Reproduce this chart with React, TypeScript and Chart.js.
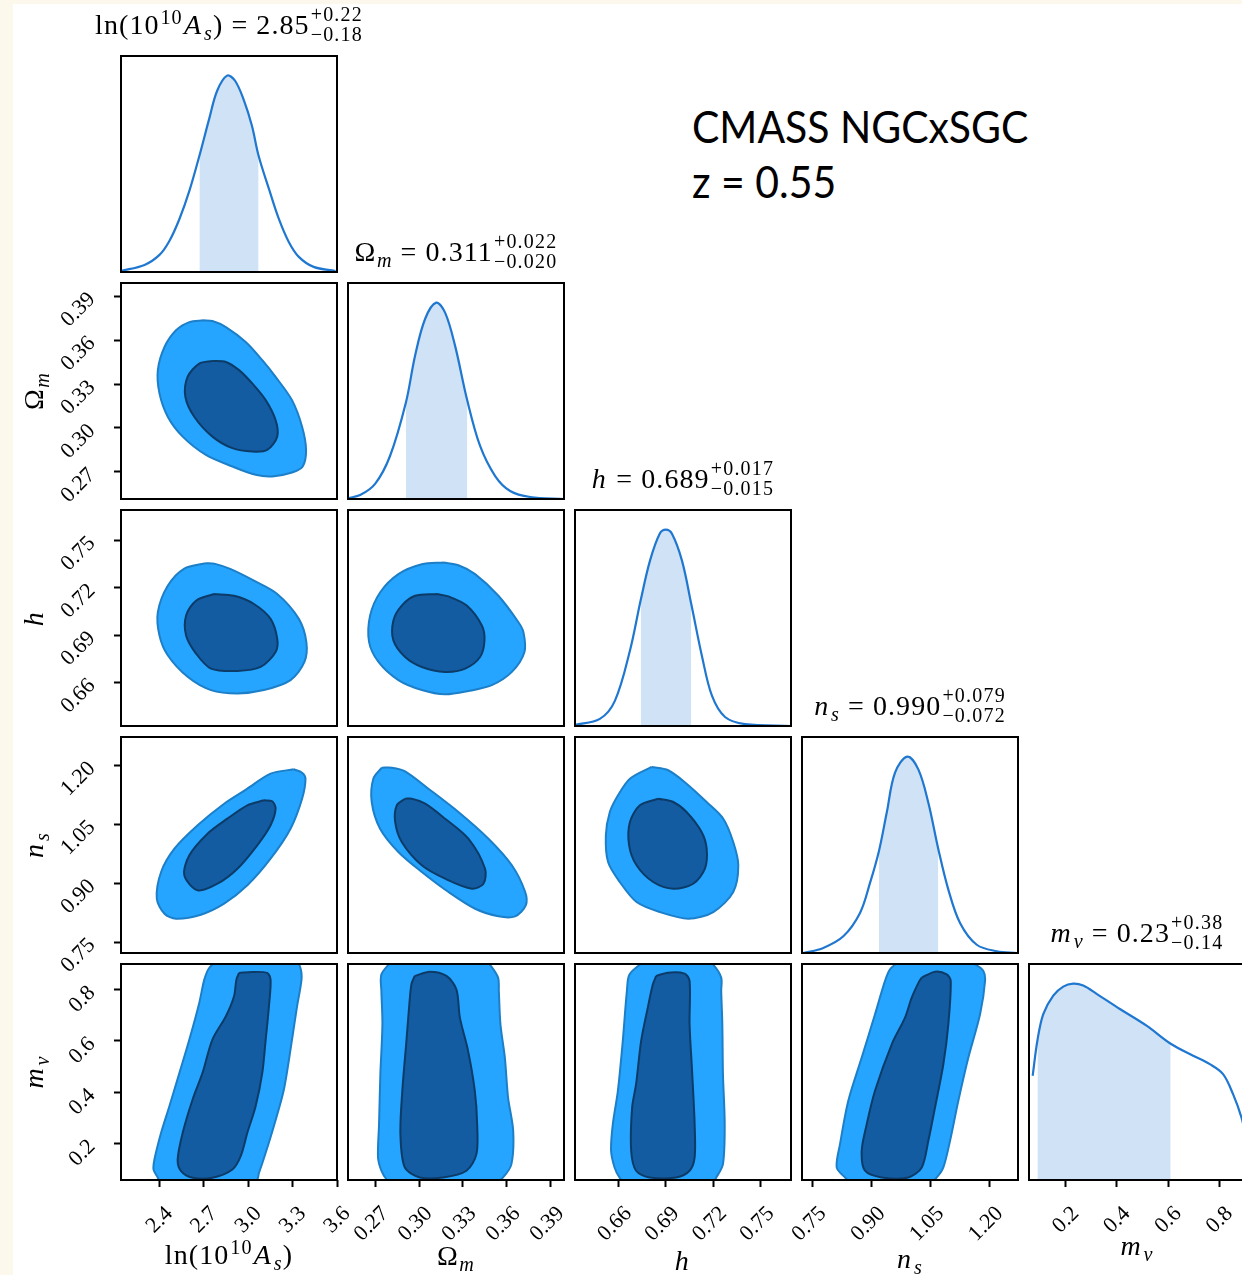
import React, { useEffect, useRef } from "react";
import { Chart, registerables } from "chart.js";

Chart.register(...registerables);

type Pt = [number, number];

// ---------------- layout constants ----------------
const PANEL = 216;
const STRIDE = 227;
const GRID_LEFT = 121;
const GRID_TOP = 56;
const NPAR = 5;
const SERIF = "'Liberation Serif', 'DejaVu Serif', serif";

// ---------------- parameter summaries ----------------
const MEDIAN = [2.85, 0.311, 0.689, 0.99, 0.23];
const ERR_PLUS = [0.22, 0.022, 0.017, 0.079, 0.38];
const ERR_MINUS = [0.18, 0.02, 0.015, 0.072, 0.14];
const VALUE_DECIMALS = [2, 3, 3, 3, 2];

// axis ranges and ticks
const AXIS_MIN = [2.14, 0.2515, 0.6325, 0.722, 0.057];
const AXIS_MAX = [3.6, 0.399, 0.769, 1.272, 0.9];
const TICKS_LNAS = [2.4, 2.7, 3.0, 3.3, 3.6];
const TICKS_OM = [0.27, 0.3, 0.33, 0.36, 0.39];
const TICKS_H = [0.66, 0.69, 0.72, 0.75];
const TICKS_NS = [0.75, 0.9, 1.05, 1.2];
const TICKS_MNU = [0.2, 0.4, 0.6, 0.8];
const TICK_DECIMALS = [1, 2, 2, 2, 1];
const DIAG_YMAX = 1.1;

// ---------------- 1D marginal posteriors ----------------
const LNAS_GRID = [2.138, 2.299, 2.4, 2.467, 2.535, 2.602, 2.67, 2.736, 2.79, 2.857, 2.911, 2.972, 3.025, 3.07, 3.14, 3.207, 3.274, 3.342, 3.442, 3.59];
const LNAS_PDF = [0.005, 0.036, 0.087, 0.158, 0.27, 0.413, 0.592, 0.78, 0.923, 1.0, 0.974, 0.872, 0.745, 0.592, 0.423, 0.27, 0.153, 0.077, 0.026, 0.005];

const OM_GRID = [0.2516, 0.2598, 0.27, 0.2802, 0.291, 0.2973, 0.3042, 0.3117, 0.3178, 0.3246, 0.333, 0.3417, 0.352, 0.3622, 0.3759, 0.3991];
const OM_PDF = [0.005, 0.02, 0.077, 0.219, 0.49, 0.73, 0.918, 1.0, 0.949, 0.781, 0.5, 0.27, 0.117, 0.041, 0.01, 0.0];

const H_GRID = [0.6323, 0.6482, 0.6577, 0.6672, 0.674, 0.6799, 0.6861, 0.6899, 0.6937, 0.7001, 0.706, 0.7127, 0.7191, 0.7273, 0.74, 0.7691];
const H_PDF = [0.005, 0.036, 0.128, 0.383, 0.64, 0.842, 0.98, 1.0, 0.98, 0.842, 0.62, 0.357, 0.153, 0.046, 0.01, 0.0];

const NS_GRID = [0.7253, 0.7762, 0.8272, 0.8697, 0.8952, 0.918, 0.9377, 0.9589, 0.9902, 1.0182, 1.0437, 1.069, 1.0946, 1.1244, 1.167, 1.2179, 1.2689];
const NS_PDF = [0.0, 0.026, 0.085, 0.204, 0.357, 0.52, 0.714, 0.918, 1.0, 0.935, 0.765, 0.53, 0.323, 0.153, 0.042, 0.009, 0.0];

const MNU_GRID = [0.0713, 0.09, 0.1127, 0.1517, 0.1906, 0.2296, 0.2686, 0.3209, 0.4117, 0.5158, 0.61, 0.6975, 0.7626, 0.8144, 0.8534, 0.8862, 0.9068];
const MNU_PDF = [0.531, 0.712, 0.845, 0.939, 0.985, 1.0, 0.99, 0.948, 0.871, 0.786, 0.694, 0.633, 0.59, 0.539, 0.437, 0.318, 0.199];

// ---------------- 2D credible contours (x = column param, y = row param) ----------------
const OM_LNAS_95: Pt[] = [[2.696, 0.3735], [2.602, 0.3723], [2.512, 0.3667], [2.434, 0.3553], [2.389, 0.3395], [2.4, 0.3236], [2.456, 0.3077], [2.557, 0.2941], [2.714, 0.2816], [2.893, 0.2737], [3.05, 0.268], [3.162, 0.2669], [3.296, 0.2696], [3.368, 0.2737], [3.391, 0.285], [3.364, 0.3009], [3.296, 0.319], [3.185, 0.3349], [3.095, 0.3463], [2.983, 0.3587], [2.849, 0.3689], [2.758, 0.373]];
const OM_LNAS_68: Pt[] = [[2.758, 0.3458], [2.669, 0.344], [2.59, 0.3349], [2.575, 0.3213], [2.635, 0.3077], [2.758, 0.2941], [2.893, 0.2862], [3.027, 0.2839], [3.128, 0.285], [3.196, 0.2941], [3.185, 0.3054], [3.118, 0.319], [3.027, 0.3304], [2.938, 0.3395], [2.849, 0.3451]];

const H_LNAS_95: Pt[] = [[2.714, 0.7354], [2.568, 0.732], [2.456, 0.7211], [2.389, 0.7044], [2.4, 0.6897], [2.456, 0.6772], [2.59, 0.6636], [2.748, 0.6552], [2.927, 0.6531], [3.106, 0.6552], [3.286, 0.6615], [3.38, 0.673], [3.393, 0.6855], [3.342, 0.7002], [3.196, 0.7159], [3.039, 0.7243], [2.882, 0.7316], [2.77, 0.7351]];
const H_LNAS_68: Pt[] = [[2.77, 0.7159], [2.647, 0.7117], [2.58, 0.7023], [2.58, 0.6897], [2.647, 0.6783], [2.748, 0.6688], [2.927, 0.6673], [3.084, 0.6698], [3.185, 0.6793], [3.196, 0.6877], [3.151, 0.7002], [3.039, 0.7096], [2.904, 0.7148]];

const H_OM_95: Pt[] = [[0.3167, 0.7358], [0.3019, 0.7347], [0.2859, 0.7285], [0.2734, 0.7169], [0.2666, 0.7023], [0.2659, 0.6855], [0.2723, 0.673], [0.2859, 0.6615], [0.3019, 0.6552], [0.3178, 0.6525], [0.3337, 0.6546], [0.3497, 0.6583], [0.3634, 0.6667], [0.372, 0.6793], [0.3713, 0.6918], [0.3679, 0.6981], [0.3542, 0.7148], [0.3383, 0.7285], [0.3269, 0.7341]];
const H_OM_68: Pt[] = [[0.3121, 0.7159], [0.2973, 0.7148], [0.2882, 0.7086], [0.2825, 0.6992], [0.2825, 0.6866], [0.2905, 0.6761], [0.3019, 0.6698], [0.3178, 0.6667], [0.3315, 0.6688], [0.3417, 0.6761], [0.3447, 0.6866], [0.3429, 0.696], [0.3326, 0.7086], [0.3201, 0.7144]];

const NS_LNAS_95: Pt[] = [[3.308, 1.1898], [3.151, 1.1786], [2.994, 1.1404], [2.837, 1.1022], [2.658, 1.0472], [2.501, 0.9876], [2.411, 0.9282], [2.382, 0.8602], [2.434, 0.822], [2.512, 0.8093], [2.68, 0.8195], [2.837, 0.8475], [2.994, 0.8943], [3.151, 0.9621], [3.286, 1.0385], [3.364, 1.1149], [3.387, 1.1659], [3.364, 1.1812]];
const NS_LNAS_68: Pt[] = [[3.106, 1.1109], [2.994, 1.0981], [2.859, 1.064], [2.725, 1.0258], [2.602, 0.9708], [2.568, 0.9198], [2.658, 0.8816], [2.792, 0.8984], [2.927, 0.9366], [3.061, 0.9962], [3.151, 1.0472], [3.185, 1.0895], [3.162, 1.1083]];

const NS_OM_95: Pt[] = [[0.2746, 1.1939], [0.2688, 1.1659], [0.2677, 1.1065], [0.2734, 1.0385], [0.2859, 0.9792], [0.3019, 0.9282], [0.3201, 0.8773], [0.3383, 0.8347], [0.3542, 0.8154], [0.3656, 0.8154], [0.3729, 0.8434], [0.3725, 0.8773], [0.3634, 0.9453], [0.3474, 1.013], [0.3269, 1.081], [0.3064, 1.1404], [0.2905, 1.1847], [0.2814, 1.1939]];
const NS_OM_68: Pt[] = [[0.2905, 1.1149], [0.2848, 1.0981], [0.2837, 1.0556], [0.2882, 1.0046], [0.3019, 0.9453], [0.3178, 0.9112], [0.3361, 0.8857], [0.344, 0.8984], [0.3451, 0.9366], [0.3337, 1.013], [0.3178, 1.064], [0.3042, 1.1022], [0.2951, 1.1149]];

const NS_H_95: Pt[] = [[0.6809, 1.1957], [0.6672, 1.1659], [0.6597, 1.1236], [0.6545, 1.081], [0.652, 1.0217], [0.6534, 0.9537], [0.6608, 0.9028], [0.6714, 0.8518], [0.6861, 0.8263], [0.7041, 0.8093], [0.7199, 0.8263], [0.7325, 0.8773], [0.7357, 0.9453], [0.7325, 1.0046], [0.7262, 1.064], [0.7157, 1.1065], [0.703, 1.1531], [0.6914, 1.1873]];
const NS_H_68: Pt[] = [[0.6851, 1.1149], [0.6735, 1.0981], [0.6672, 1.0556], [0.6667, 0.9962], [0.6714, 0.9453], [0.6819, 0.9028], [0.6946, 0.8857], [0.7072, 0.8984], [0.7146, 0.9366], [0.7157, 0.9876], [0.7125, 1.0301], [0.703, 1.081], [0.6946, 1.1065]];

const MNU_LNAS_95: Pt[] = [[2.792, 0.913], [2.736, 0.8846], [2.703, 0.839], [2.669, 0.7481], [2.602, 0.6051], [2.535, 0.4752], [2.467, 0.345], [2.411, 0.2413], [2.366, 0.1372], [2.36, 0.0982], [2.389, 0.0659], [2.4, 0.0515], [3.05, 0.0515], [3.073, 0.0854], [3.118, 0.1634], [3.173, 0.267], [3.241, 0.4101], [3.296, 0.6051], [3.33, 0.7349], [3.36, 0.839], [3.353, 0.8846], [3.319, 0.913]];
const MNU_LNAS_68: Pt[] = [[2.938, 0.8651], [3.027, 0.869], [3.128, 0.8651], [3.151, 0.839], [3.14, 0.7349], [3.118, 0.6051], [3.095, 0.4752], [3.05, 0.345], [2.994, 0.2413], [2.949, 0.1501], [2.893, 0.0982], [2.758, 0.0659], [2.624, 0.0659], [2.546, 0.0916], [2.523, 0.1372], [2.557, 0.2413], [2.624, 0.3713], [2.691, 0.4752], [2.758, 0.6051], [2.849, 0.6959], [2.904, 0.7739], [2.92, 0.839]];

const MNU_OM_95: Pt[] = [[0.2816, 0.913], [0.2743, 0.8596], [0.2743, 0.7949], [0.275, 0.6647], [0.2736, 0.4698], [0.2727, 0.2748], [0.272, 0.145], [0.2743, 0.0932], [0.2777, 0.0604], [0.2816, 0.0476], [0.352, 0.0476], [0.3574, 0.0671], [0.3631, 0.1189], [0.3643, 0.2491], [0.3608, 0.3789], [0.3586, 0.5349], [0.3556, 0.6647], [0.3545, 0.7949], [0.354, 0.8468], [0.3483, 0.8986], [0.3451, 0.913]];
const MNU_OM_68: Pt[] = [[0.2971, 0.8534], [0.3074, 0.8702], [0.3187, 0.8534], [0.3255, 0.8012], [0.3279, 0.6908], [0.3335, 0.561], [0.3381, 0.4051], [0.3397, 0.2748], [0.3392, 0.1579], [0.3324, 0.0932], [0.3164, 0.0671], [0.3005, 0.0671], [0.2903, 0.106], [0.2873, 0.2359], [0.2886, 0.4051], [0.2914, 0.6], [0.2932, 0.7298], [0.2948, 0.8207]];

const MNU_H_95: Pt[] = [[0.6766, 0.913], [0.667, 0.8596], [0.6653, 0.7949], [0.6627, 0.6], [0.6596, 0.4051], [0.6564, 0.2748], [0.6553, 0.1711], [0.6575, 0.106], [0.6606, 0.0671], [0.664, 0.0476], [0.7191, 0.0476], [0.7218, 0.0671], [0.726, 0.1189], [0.7271, 0.2748], [0.726, 0.4698], [0.7256, 0.6647], [0.7249, 0.7949], [0.7249, 0.8468], [0.7197, 0.8986], [0.7153, 0.913]];
const MNU_H_68: Pt[] = [[0.6838, 0.8534], [0.6912, 0.8663], [0.7018, 0.8624], [0.7049, 0.8339], [0.7049, 0.6647], [0.7066, 0.4698], [0.7081, 0.2748], [0.7081, 0.145], [0.7049, 0.0932], [0.6965, 0.0671], [0.6796, 0.0671], [0.6711, 0.0932], [0.668, 0.1711], [0.6686, 0.34], [0.6711, 0.4308], [0.6743, 0.6], [0.6785, 0.7298], [0.6817, 0.8207]];

const MNU_NS_95: Pt[] = [[0.9716, 0.913], [0.9461, 0.8791], [0.9334, 0.8339], [0.9079, 0.7037], [0.874, 0.5349], [0.8399, 0.3661], [0.8188, 0.1969], [0.8104, 0.106], [0.8315, 0.0671], [0.8493, 0.0476], [1.048, 0.0476], [1.0651, 0.0671], [1.0819, 0.106], [1.099, 0.2101], [1.1201, 0.3661], [1.1456, 0.5349], [1.1754, 0.7037], [1.1881, 0.8339], [1.1838, 0.8729], [1.1626, 0.8986], [1.1372, 0.913]];
const MNU_NS_68: Pt[] = [[1.0269, 0.8468], [1.0607, 0.8702], [1.0906, 0.8596], [1.1007, 0.8339], [1.0946, 0.6647], [1.0819, 0.5088], [1.0607, 0.34], [1.0437, 0.2101], [1.0269, 0.106], [0.9927, 0.0671], [0.925, 0.0671], [0.8825, 0.0932], [0.874, 0.1711], [0.8868, 0.2748], [0.9079, 0.4051], [0.9505, 0.5867], [0.9843, 0.6908], [1.0014, 0.7688], [1.02, 0.8312]];

// ---------------- lookup tables built from the arrays ----------------
const TICKS = [TICKS_LNAS, TICKS_OM, TICKS_H, TICKS_NS, TICKS_MNU];
const PDF_GRIDS = [LNAS_GRID, OM_GRID, H_GRID, NS_GRID, MNU_GRID];
const PDF_VALUES = [LNAS_PDF, OM_PDF, H_PDF, NS_PDF, MNU_PDF];
const CONTOURS: Record<string, { c95: Pt[]; c68: Pt[] }> = {
  "1-0": { c95: OM_LNAS_95, c68: OM_LNAS_68 },
  "2-0": { c95: H_LNAS_95, c68: H_LNAS_68 },
  "2-1": { c95: H_OM_95, c68: H_OM_68 },
  "3-0": { c95: NS_LNAS_95, c68: NS_LNAS_68 },
  "3-1": { c95: NS_OM_95, c68: NS_OM_68 },
  "3-2": { c95: NS_H_95, c68: NS_H_68 },
  "4-0": { c95: MNU_LNAS_95, c68: MNU_LNAS_68 },
  "4-1": { c95: MNU_OM_95, c68: MNU_OM_68 },
  "4-2": { c95: MNU_H_95, c68: MNU_H_68 },
  "4-3": { c95: MNU_NS_95, c68: MNU_NS_68 },
};

type Part = { t: string; it?: boolean; sup?: boolean; sub?: boolean };
const LABEL_PARTS: Part[][] = [
  [{ t: "ln(10" }, { t: "10", sup: true }, { t: "A", it: true }, { t: "s", it: true, sub: true }, { t: ")" }],
  [{ t: "Ω" }, { t: "m", it: true, sub: true }],
  [{ t: "h", it: true }],
  [{ t: "n", it: true }, { t: "s", it: true, sub: true }],
  [{ t: "m", it: true }, { t: "ν", it: true, sub: true }],
];
const XLABEL_BASELINE = [1264, 1265, 1270, 1268, 1255];

// ---------------- colours ----------------
const OUTER_FILL = "#25a5ff";
const OUTER_EDGE = "#1c7fc8";
const INNER_FILL = "#145ca2";
const INNER_EDGE = "#0c3b68";
const LINE_COLOR = "#1f77d0";
const SHADE = "#d0e2f6";

const toXY = (pts: Pt[]) => pts.map(([x, y]) => ({ x, y }));
const closed = (pts: Pt[]) => [...pts, pts[0]];

const framePlugin = {
  id: "frame",
  afterDraw(chart: any) {
    const { ctx, chartArea: a } = chart;
    ctx.save();
    ctx.strokeStyle = "#000";
    ctx.lineWidth = 2;
    ctx.strokeRect(a.left, a.top, a.right - a.left, a.bottom - a.top);
    ctx.restore();
  },
};

function makeAxis(p: number, isX: boolean, shown: boolean, size: number, diag: boolean) {
  const base: any = {
    type: "linear",
    position: isX ? "bottom" : "left",
    display: shown,
    min: diag ? 0 : AXIS_MIN[p],
    max: diag ? DIAG_YMAX : AXIS_MAX[p],
    afterFit: (s: any) => {
      if (isX) s.height = shown ? size : 0;
      else s.width = shown ? size : 0;
    },
    grid: {
      display: true,
      drawOnChartArea: false,
      drawTicks: true,
      tickLength: 7,
      tickWidth: 2,
      tickColor: "#000",
    },
    border: { display: false },
    ticks: {
      autoSkip: false,
      minRotation: 45,
      maxRotation: 45,
      padding: isX ? 14 : 22,
      labelOffset: isX ? 10 : 0,
      color: "#000",
      font: { family: SERIF, size: 22 },
      callback: (v: any) => Number(v).toFixed(TICK_DECIMALS[p]),
    },
  };
  if (!diag) {
    base.afterBuildTicks = (s: any) => {
      s.ticks = TICKS[p].map((v) => ({ value: v }));
    };
  }
  return base;
}

function Panel({ row, col }: { row: number; col: number }) {
  const ref = useRef<HTMLCanvasElement>(null);
  const showX = row === NPAR - 1;
  const showY = col === 0 && row > 0;
  const ML = showY ? 110 : 80;
  const MR = 70;
  const MT = 70;
  const MB = showX ? 100 : 70;
  const W = PANEL + ML + MR;
  const H = PANEL + MT + MB;
  const left = GRID_LEFT + col * STRIDE - ML;
  const top = GRID_TOP + row * STRIDE - MT;

  useEffect(() => {
    const diag = row === col;
    let datasets: any[];
    if (diag) {
      const grid = PDF_GRIDS[col];
      const pdf = PDF_VALUES[col];
      const lo = MEDIAN[col] - ERR_MINUS[col] - 1e-6;
      const hi = MEDIAN[col] + ERR_PLUS[col] + 1e-6;
      const curve = grid.map((x, i) => ({ x, y: pdf[i] }));
      const shade = curve.filter((pt) => pt.x >= lo && pt.x <= hi);
      datasets = [
        { data: curve, borderColor: LINE_COLOR, borderWidth: 2.2, fill: false, tension: 0.35, pointRadius: 0, order: 1, clip: 0 },
        { data: shade, borderWidth: 0, borderColor: "rgba(0,0,0,0)", backgroundColor: SHADE, fill: "origin", tension: 0.35, pointRadius: 0, order: 2, clip: 0 },
      ];
    } else {
      const c = CONTOURS[`${row}-${col}`];
      datasets = [
        { data: toXY(closed(c.c95)), borderColor: OUTER_EDGE, backgroundColor: OUTER_FILL, borderWidth: 2, fill: "shape", tension: 0.3, pointRadius: 0, order: 2, clip: 0, borderJoinStyle: "round" },
        { data: toXY(closed(c.c68)), borderColor: INNER_EDGE, backgroundColor: INNER_FILL, borderWidth: 2, fill: "shape", tension: 0.3, pointRadius: 0, order: 1, clip: 0, borderJoinStyle: "round" },
      ];
    }
    const chart = new Chart(ref.current as HTMLCanvasElement, {
      type: "line",
      data: { datasets },
      options: {
        responsive: false,
        animation: false,
        events: [],
        layout: {
          autoPadding: false,
          padding: { left: showY ? 0 : ML, right: MR, top: MT, bottom: showX ? 0 : MB },
        },
        plugins: { legend: { display: false }, tooltip: { enabled: false } },
        elements: { point: { radius: 0 } },
        scales: {
          x: makeAxis(col, true, showX, MB, false),
          y: diag ? makeAxis(row, false, false, ML, true) : makeAxis(row, false, showY, ML, false),
        },
      } as any,
      plugins: [framePlugin],
    } as any);
    return () => chart.destroy();
  }, [row, col]);

  return (
    <canvas
      ref={ref}
      width={W}
      height={H}
      style={{ position: "absolute", left, top, width: W, height: H }}
    />
  );
}

function MathText({ parts }: { parts: Part[] }) {
  return (
    <>
      {parts.map((p, i) => (
        <span
          key={i}
          style={{
            fontStyle: p.it ? "italic" : "normal",
            fontSize: p.sup || p.sub ? "0.72em" : undefined,
            position: p.sup || p.sub ? "relative" : undefined,
            top: p.sup ? "-0.5em" : p.sub ? "0.3em" : undefined,
            marginLeft: p.sub ? "0.02em" : p.sup ? "0.04em" : undefined,
            marginRight: p.it && !p.sub ? "0.05em" : p.sup ? "0.06em" : undefined,
          }}
        >
          {p.t}
        </span>
      ))}
    </>
  );
}

const FONT_PX = 28;
const BASE_OFF = 23.4;
const textBox: React.CSSProperties = {
  position: "absolute",
  display: "flex",
  justifyContent: "center",
  alignItems: "baseline",
  fontFamily: SERIF,
  fontSize: FONT_PX,
  lineHeight: `${FONT_PX}px`,
  letterSpacing: "1.1px",
  whiteSpace: "nowrap",
  color: "#000",
};

function Title({ p }: { p: number }) {
  const cx = GRID_LEFT + p * STRIDE + PANEL / 2;
  const baseline = GRID_TOP + p * STRIDE - 22;
  const d = VALUE_DECIMALS[p];
  return (
    <div style={{ ...textBox, left: cx - 220, width: 440, top: baseline - BASE_OFF }}>
      <span>
        <MathText parts={LABEL_PARTS[p]} />
        <span style={{ margin: "0 8px" }}>=</span>
        {MEDIAN[p].toFixed(d)}
      </span>
      <span
        style={{
          display: "inline-flex",
          flexDirection: "column",
          fontSize: 20,
          lineHeight: "20px",
          letterSpacing: "1.2px",
          position: "relative",
          top: -13,
          marginLeft: 1,
        }}
      >
        <span>+{ERR_PLUS[p].toFixed(d)}</span>
        <span>−{ERR_MINUS[p].toFixed(d)}</span>
      </span>
    </div>
  );
}

function XLabel({ p }: { p: number }) {
  const cx = GRID_LEFT + p * STRIDE + PANEL / 2;
  return (
    <div style={{ ...textBox, left: cx - 150, width: 300, top: XLABEL_BASELINE[p] - BASE_OFF }}>
      <span>
        <MathText parts={LABEL_PARTS[p]} />
      </span>
    </div>
  );
}

function YLabel({ p }: { p: number }) {
  const cy = GRID_TOP + p * STRIDE + PANEL / 2;
  const cx = 43 - (BASE_OFF - 20);
  return (
    <div
      style={{
        ...textBox,
        alignItems: "flex-start",
        left: cx - 150,
        top: cy - 20,
        width: 300,
        height: 40,
        transform: "rotate(-90deg)",
      }}
    >
      <span>
        <MathText parts={LABEL_PARTS[p]} />
      </span>
    </div>
  );
}

export default function App() {
  const panels: JSX.Element[] = [];
  for (let r = 0; r < NPAR; r++) {
    for (let c = 0; c <= r; c++) panels.push(<Panel key={`${r}-${c}`} row={r} col={c} />);
  }
  const idx = [0, 1, 2, 3, 4];
  return (
    <div
      style={{
        position: "absolute",
        left: 0,
        top: 0,
        width: 1242,
        height: 1275,
        overflow: "hidden",
        background: "#fcf8ec",
      }}
    >
      <div style={{ position: "absolute", left: 13, top: 4, right: 0, bottom: 0, background: "#ffffff" }} />
      {panels}
      {idx.map((p) => (
        <Title key={`t${p}`} p={p} />
      ))}
      {idx.map((p) => (
        <XLabel key={`x${p}`} p={p} />
      ))}
      {idx.slice(1).map((p) => (
        <YLabel key={`y${p}`} p={p} />
      ))}
      <div
        style={{
          position: "absolute",
          left: 692,
          top: 98.5,
          fontFamily: "Lato, 'Open Sans', sans-serif",
          fontSize: 45,
          lineHeight: "55px",
          color: "#000",
          whiteSpace: "nowrap",
          transform: "scaleX(0.91)",
          transformOrigin: "left top",
        }}
      >
        <div>CMASS NGCxSGC</div>
        <div>z = 0.55</div>
      </div>
    </div>
  );
}
